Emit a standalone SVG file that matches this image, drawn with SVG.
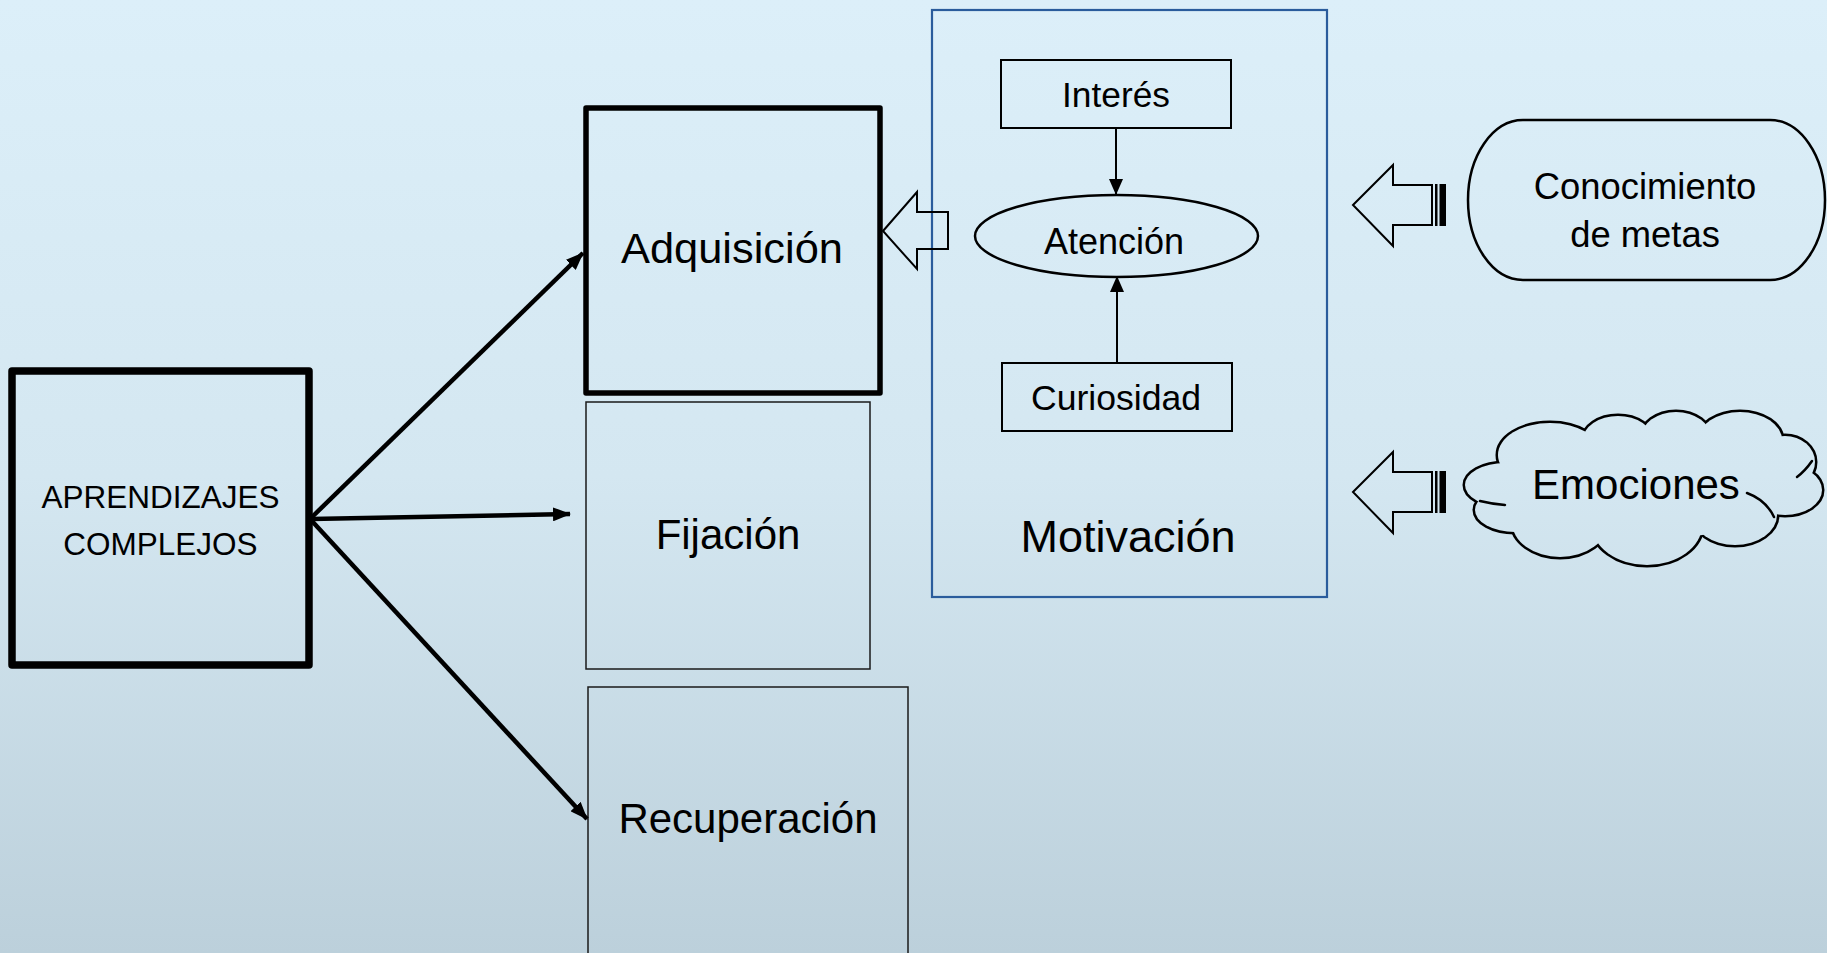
<svg xmlns="http://www.w3.org/2000/svg" xmlns:xlink="http://www.w3.org/1999/xlink" width="1827" height="953" viewBox="0 0 1827 953">
<defs>
  <linearGradient id="bg" gradientUnits="userSpaceOnUse" x1="0" y1="0" x2="0" y2="953">
    <stop offset="0" stop-color="#DCEFF9"/>
    <stop offset="0.5" stop-color="#D4E7F1"/>
    <stop offset="1" stop-color="#BCD0DB"/>
  </linearGradient>
  <marker id="ahBig" markerUnits="userSpaceOnUse" markerWidth="18" markerHeight="14" refX="17" refY="7" orient="auto">
    <path d="M0,0 L18,7 L0,14 Z" fill="#000"/>
  </marker>
  <marker id="ahSmall" markerUnits="userSpaceOnUse" markerWidth="16" markerHeight="14" refX="15" refY="7" orient="auto">
    <path d="M0,0 L16,7 L0,14 Z" fill="#000"/>
  </marker>
  <g id="cloudBumps">
    <ellipse cx="1550" cy="455" rx="52" ry="32"/>
    <ellipse cx="1618" cy="440" rx="35" ry="24"/>
    <ellipse cx="1676" cy="438" rx="35" ry="26"/>
    <ellipse cx="1740" cy="440" rx="42" ry="28"/>
    <ellipse cx="1785" cy="462" rx="30" ry="26"/>
    <ellipse cx="1785" cy="490" rx="37" ry="25"/>
    <ellipse cx="1735" cy="515" rx="42" ry="30"/>
    <ellipse cx="1647" cy="525" rx="55" ry="40"/>
    <ellipse cx="1560" cy="522" rx="48" ry="35"/>
    <ellipse cx="1515" cy="510" rx="40" ry="22"/>
    <ellipse cx="1505" cy="485" rx="40" ry="22"/>
  </g>
  <style>
    text { font-family: "Liberation Sans", Arial, sans-serif; fill: #000; text-anchor: middle; }
    .thick { fill: none; stroke: #000; stroke-linejoin: round; }
    .thin { fill: none; stroke: #1a1a1a; stroke-width: 1.5; }
    .inner { fill: none; stroke: #000; stroke-width: 2; }
    .conn { fill: none; stroke: #000; stroke-width: 4.5; }
    .connSm { fill: none; stroke: #000; stroke-width: 2; }
    .block { fill: none; stroke: #000; stroke-width: 2; stroke-linejoin: miter; }
  </style>
</defs>

<rect x="0" y="0" width="1827" height="953" fill="url(#bg)"/>

<g id="aprendizajes">
  <rect class="thick" x="12" y="371" width="297" height="294" stroke-width="7.5"/>
  <text x="160.5" y="508" font-size="31.5">APRENDIZAJES</text>
  <text x="160.5" y="555" font-size="31.5">COMPLEJOS</text>
</g>

<g id="adquisicion">
  <rect class="thick" x="586" y="108" width="294" height="285" stroke-width="5.5"/>
  <text x="732" y="263" font-size="43.4">Adquisición</text>
</g>

<g id="fijacion">
  <rect class="thin" x="586" y="402" width="284" height="267"/>
  <text x="728" y="549" font-size="42">Fijación</text>
</g>

<g id="recuperacion">
  <rect class="thin" x="588" y="687" width="320" height="280"/>
  <text x="748" y="833" font-size="42">Recuperación</text>
</g>

<g id="motivacion">
  <rect x="932" y="10" width="395" height="587" fill="none" stroke="#2A5C9C" stroke-width="2.2"/>
  <text x="1128" y="552" font-size="45">Motivación</text>
</g>

<g id="interes">
  <rect class="inner" x="1001" y="60" width="230" height="68"/>
  <text x="1116" y="107" font-size="35.3">Interés</text>
</g>

<g id="atencion">
  <ellipse cx="1116.5" cy="236" rx="141.5" ry="41" fill="none" stroke="#000" stroke-width="2.5"/>
  <text x="1114" y="254" font-size="36">Atención</text>
</g>

<g id="curiosidad">
  <rect class="inner" x="1002" y="363" width="230" height="68"/>
  <text x="1116" y="410" font-size="35.6">Curiosidad</text>
</g>

<g id="conocimiento">
  <rect x="1468" y="120" width="357" height="160" rx="55" ry="80" fill="none" stroke="#000" stroke-width="2.5"/>
  <text x="1645" y="199" font-size="36.4">Conocimiento</text>
  <text x="1645" y="247" font-size="36.4">de metas</text>
</g>

<g id="emociones">
  <use xlink:href="#cloudBumps" fill="none" stroke="#000" stroke-width="5"/>
  <use xlink:href="#cloudBumps" fill="url(#bg)" stroke="none"/>
  <ellipse cx="1640" cy="485" rx="150" ry="55" fill="url(#bg)"/>
  <g fill="none" stroke="#000" stroke-width="2.5" stroke-linecap="round">
    <path d="M1747,493 Q1766,500 1774,517"/>
    <path d="M1797,477 Q1805,471 1812,461"/>
    <path d="M1480,501 Q1492,504 1505,505"/>
  </g>
  <text x="1636" y="499" font-size="42">Emociones</text>
</g>

<g id="connectors">
  <line class="conn" x1="311" y1="518" x2="583" y2="253" marker-end="url(#ahBig)"/>
  <line class="conn" x1="311" y1="519" x2="570" y2="514" marker-end="url(#ahBig)"/>
  <line class="conn" x1="311" y1="520" x2="587" y2="819" marker-end="url(#ahBig)"/>
  <line class="connSm" x1="1116" y1="128" x2="1116" y2="194" marker-end="url(#ahSmall)"/>
  <line class="connSm" x1="1117" y1="363" x2="1117" y2="277" marker-end="url(#ahSmall)"/>
  <polygon class="block" points="883,231 917,192 917,212 948,212 948,249 917,249 917,269"/>
  <polygon class="block" points="1353,205 1393,165 1393,185 1432,185 1432,225 1393,225 1393,246"/>
  <rect x="1435" y="184" width="2.5" height="42" fill="#000"/>
  <rect x="1439.5" y="184" width="6.5" height="42" fill="#000"/>
  <polygon class="block" points="1353,492 1393,452 1393,472 1432,472 1432,512 1393,512 1393,533"/>
  <rect x="1435" y="471" width="2.5" height="42" fill="#000"/>
  <rect x="1439.5" y="471" width="6.5" height="42" fill="#000"/>
</g>
</svg>
